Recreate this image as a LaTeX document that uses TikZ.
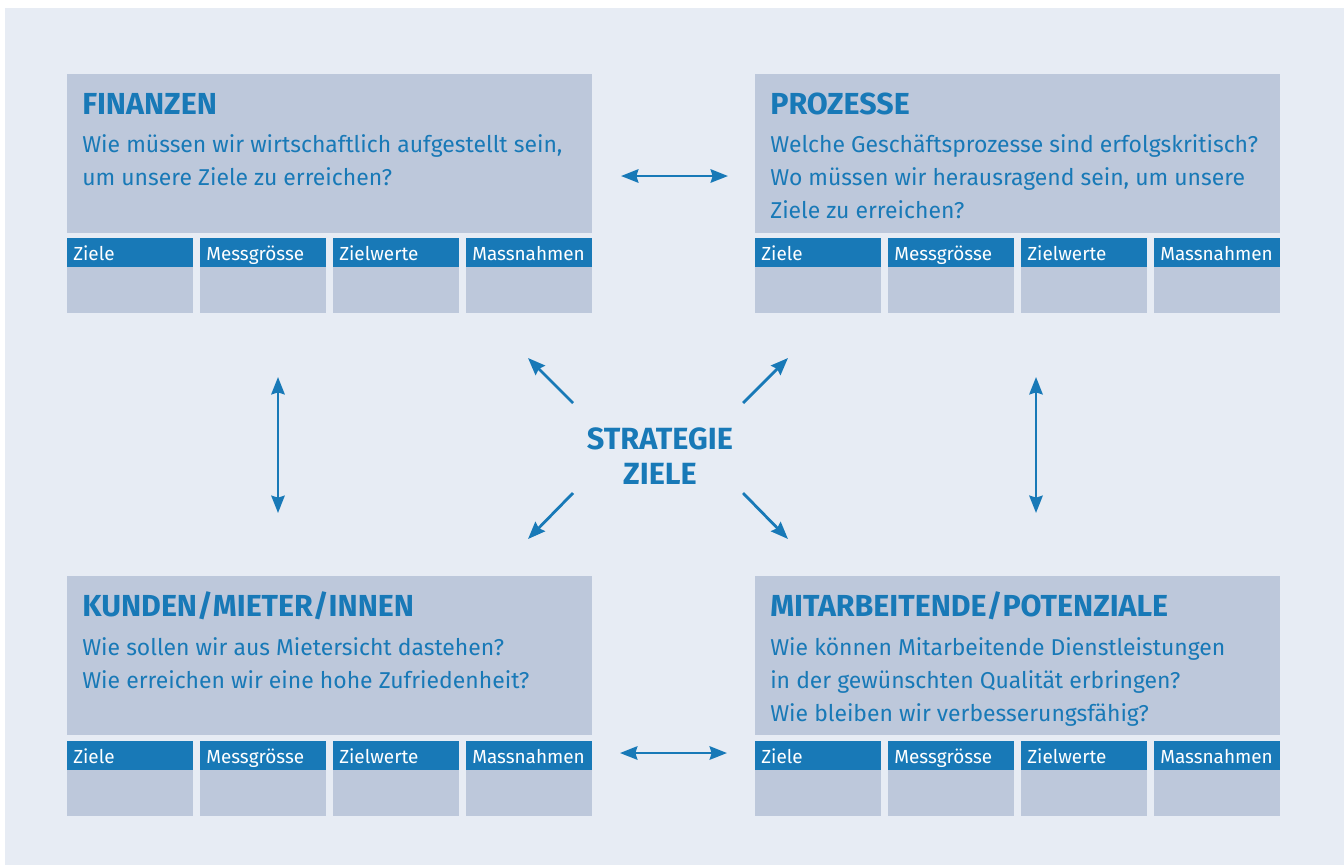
\documentclass[tikz,border=0pt]{standalone}
\usepackage{fontspec}
\setmainfont{Fira Sans}
\usetikzlibrary{arrows.meta}
\definecolor{kblue}{RGB}{24,121,183}
\definecolor{kpanel}{RGB}{189,200,219}
\definecolor{kpaper}{RGB}{231,236,244}

\begin{document}
\begin{tikzpicture}[x=0.75pt,y=-0.75pt,
  panel/.style={fill=kpanel,anchor=north west,minimum width=393.75pt,minimum height=119.25pt,inner sep=0pt},
  head/.style={fill=kblue,text=white,anchor=north west,minimum width=94.5pt,minimum height=21.75pt,inner xsep=4.5pt,inner ysep=0pt,text height=16.5pt,text depth=5.25pt,text width=85.5pt,align=left,font=\fontsize{14.2}{16}\selectfont},
  cell/.style={fill=kpanel,anchor=north west,minimum width=94.5pt,minimum height=34.5pt,inner sep=0pt},
  title/.style={anchor=base west,text=kblue,inner sep=0pt,font=\bfseries\fontsize{22.8}{26}\selectfont},
  question/.style={anchor=base west,text=kblue,inner sep=0pt,align=left,font=\fontsize{17.2}{24.75}\selectfont},
  link/.style={draw=kblue,line width=2.1pt,{Stealth[length=13pt,width=10pt,inset=1.5pt]}-{Stealth[length=13pt,width=10pt,inset=1.5pt]}},
  spoke/.style={draw=kblue,line width=2.1pt,-{Stealth[length=13pt,width=10pt,inset=1.5pt]}}]
  \useasboundingbox (0,0) rectangle (1344,865);
  \fill[white] (0,0) rectangle (1344,865);
  \fill[kpaper] (5,8) rectangle (1344,865);

  % Finanzen
  \node[panel] (fin) at (67,74) {};
  \node[title] (fintitle) at (82,114) {FINANZEN};
  \node[question] (finq) at (82,185) {Wie müssen wir wirtschaftlich aufgestellt sein,\\um unsere Ziele zu erreichen?};
  \node[head] (finh1) at (67,238) {Ziele};
  \node[head] (finh2) at (200,238) {Messgrösse};
  \node[head] (finh3) at (333,238) {Zielwerte};
  \node[head] (finh4) at (466,238) {Massnahmen};
  \node[cell] (finc1) at (67,267) {};
  \node[cell] (finc2) at (200,267) {};
  \node[cell] (finc3) at (333,267) {};
  \node[cell] (finc4) at (466,267) {};

  % Prozesse
  \node[panel] (pro) at (755,74) {};
  \node[title] (protitle) at (770,114) {PROZESSE};
  \node[question] (proq) at (770,218) {Welche Geschäftsprozesse sind erfolgskritisch?\\Wo müssen wir herausragend sein, um unsere\\Ziele zu erreichen?};
  \node[head] (proh1) at (755,238) {Ziele};
  \node[head] (proh2) at (888,238) {Messgrösse};
  \node[head] (proh3) at (1021,238) {Zielwerte};
  \node[head] (proh4) at (1154,238) {Massnahmen};
  \node[cell] (proc1) at (755,267) {};
  \node[cell] (proc2) at (888,267) {};
  \node[cell] (proc3) at (1021,267) {};
  \node[cell] (proc4) at (1154,267) {};

  % Kunden
  \node[panel] (kun) at (67,576) {};
  \node[title] (kuntitle) at (82,616) {KUNDEN/MIETER/INNEN};
  \node[question] (kunq) at (82,688) {Wie sollen wir aus Mietersicht dastehen?\\Wie erreichen wir eine hohe Zufriedenheit?};
  \node[head] (kunh1) at (67,741) {Ziele};
  \node[head] (kunh2) at (200,741) {Messgrösse};
  \node[head] (kunh3) at (333,741) {Zielwerte};
  \node[head] (kunh4) at (466,741) {Massnahmen};
  \node[cell] (kunc1) at (67,770) {};
  \node[cell] (kunc2) at (200,770) {};
  \node[cell] (kunc3) at (333,770) {};
  \node[cell] (kunc4) at (466,770) {};

  % Mitarbeitende
  \node[panel] (mit) at (755,576) {};
  \node[title] (mittitle) at (770,616) {MITARBEITENDE/POTENZIALE};
  \node[question] (mitq) at (770,721) {Wie können Mitarbeitende Dienstleistungen\\in der gewünschten Qualität erbringen?\\Wie bleiben wir verbesserungsfähig?};
  \node[head] (mith1) at (755,741) {Ziele};
  \node[head] (mith2) at (888,741) {Messgrösse};
  \node[head] (mith3) at (1021,741) {Zielwerte};
  \node[head] (mith4) at (1154,741) {Massnahmen};
  \node[cell] (mitc1) at (755,770) {};
  \node[cell] (mitc2) at (888,770) {};
  \node[cell] (mitc3) at (1021,770) {};
  \node[cell] (mitc4) at (1154,770) {};

  % Mitte
  \node[text=kblue,align=center,anchor=base,inner sep=0pt,font=\bfseries\fontsize{23}{26}\selectfont] (mitte) at (660,484) {STRATEGIE\\ZIELE};

  \coordinate (ul) at (528,358);  \coordinate (ul0) at (573,403);
  \coordinate (ur) at (788,358);  \coordinate (ur0) at (743,403);
  \coordinate (dl) at (528,539);  \coordinate (dl0) at (573,493);
  \coordinate (dr) at (788,539);  \coordinate (dr0) at (743,493);
  \draw[spoke] (ul0) -- (ul);
  \draw[spoke] (ur0) -- (ur);
  \draw[spoke] (dl0) -- (dl);
  \draw[spoke] (dr0) -- (dr);

  \coordinate (t1) at (621,176);  \coordinate (t2) at (728,176);
  \coordinate (b1) at (620,753);  \coordinate (b2) at (727,753);
  \coordinate (l1) at (278,377);  \coordinate (l2) at (278,513);
  \coordinate (r1) at (1036,377); \coordinate (r2) at (1036,513);
  \draw[link] (t1) -- (t2);
  \draw[link] (b1) -- (b2);
  \draw[link] (l1) -- (l2);
  \draw[link] (r1) -- (r2);
\end{tikzpicture}
\end{document}
